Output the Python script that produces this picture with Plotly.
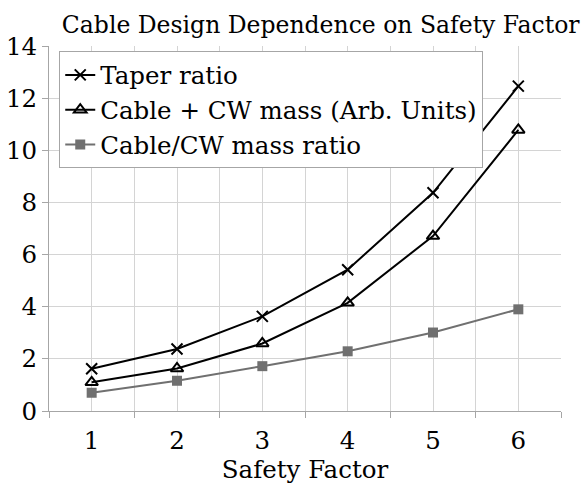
import plotly.graph_objects as go

safety_factor = [1, 2, 3, 4, 5, 6]
taper_ratio = [1.62, 2.38, 3.63, 5.42, 8.37, 12.46]
cable_cw_mass = [1.10, 1.63, 2.59, 4.15, 6.71, 10.78]
cable_cw_ratio = [0.70, 1.16, 1.72, 2.29, 3.01, 3.90]

x_tick_vals = [1, 2, 3, 4, 5, 6]
x_tick_text = ["1", "2", "3", "4", "5", "6"]
x_boundaries = [0.5, 1.5, 2.5, 3.5, 4.5, 5.5, 6.5]
y_tick_vals = [0, 2, 4, 6, 8, 10, 12, 14]

FONT = "DejaVu Serif, serif"
FS = 24.5
GRID = "#d4d4d4"
AXIS = "#a6a6a6"

fig = go.Figure()
fig.add_trace(go.Scatter(
    x=safety_factor, y=taper_ratio, name="Taper ratio", mode="lines+markers",
    line=dict(color="black", width=2),
    marker=dict(symbol="x-thin-open", size=11, color="black", line=dict(color="black", width=2)),
))
fig.add_trace(go.Scatter(
    x=safety_factor, y=cable_cw_mass, name="Cable + CW mass (Arb. Units)", mode="lines+markers",
    line=dict(color="black", width=2),
    marker=dict(symbol="triangle-up-open", size=11, color="black", line=dict(color="black", width=2)),
))
fig.add_trace(go.Scatter(
    x=safety_factor, y=cable_cw_ratio, name="Cable/CW mass ratio", mode="lines+markers",
    line=dict(color="#707070", width=2),
    marker=dict(symbol="square", size=10, color="#707070"),
))

fig.update_layout(
    width=581, height=484,
    paper_bgcolor="white", plot_bgcolor="white",
    margin=dict(l=49, r=20, t=46, b=73),
    font=dict(family=FONT, size=FS, color="black"),
    title=dict(text="Cable Design Dependence on Safety Factor", x=0.552, xanchor="center",
               y=0.948, yanchor="middle", yref="container",
               font=dict(family=FONT, size=23.5, color="black")),
    showlegend=True,
    legend=dict(x=0.02, y=0.985, xanchor="left", yanchor="top",
                bgcolor="white", bordercolor=AXIS, borderwidth=1,
                font=dict(family=FONT, size=FS, color="black"),
                tracegroupgap=0, itemwidth=30),
    xaxis=dict(
        range=[0.5, 6.5], tickmode="array", tickvals=x_tick_vals, ticktext=x_tick_text,
        ticks="", showgrid=True, gridcolor=GRID, gridwidth=1,
        showline=True, linecolor=AXIS, linewidth=1, zeroline=False,
        ticklabelstandoff=8, automargin=False,
        minor=dict(tickmode="array", tickvals=x_boundaries, ticks="outside", ticklen=6,
                   tickcolor=AXIS, showgrid=True, gridcolor=GRID, gridwidth=1),
        title=dict(text="Safety Factor", standoff=4, font=dict(family=FONT, size=FS)),
        tickfont=dict(family=FONT, size=FS),
    ),
    yaxis=dict(
        range=[0, 14], tickmode="array", tickvals=y_tick_vals,
        ticks="outside", ticklen=6, tickcolor=AXIS, automargin=False,
        showgrid=True, gridcolor=GRID, gridwidth=1,
        showline=True, linecolor=AXIS, linewidth=1, zeroline=False,
        tickfont=dict(family=FONT, size=FS),
    ),
)

fig.write_html("out.html", config={"displayModeBar": False},
               post_script="document.body.style.margin='0px';")
